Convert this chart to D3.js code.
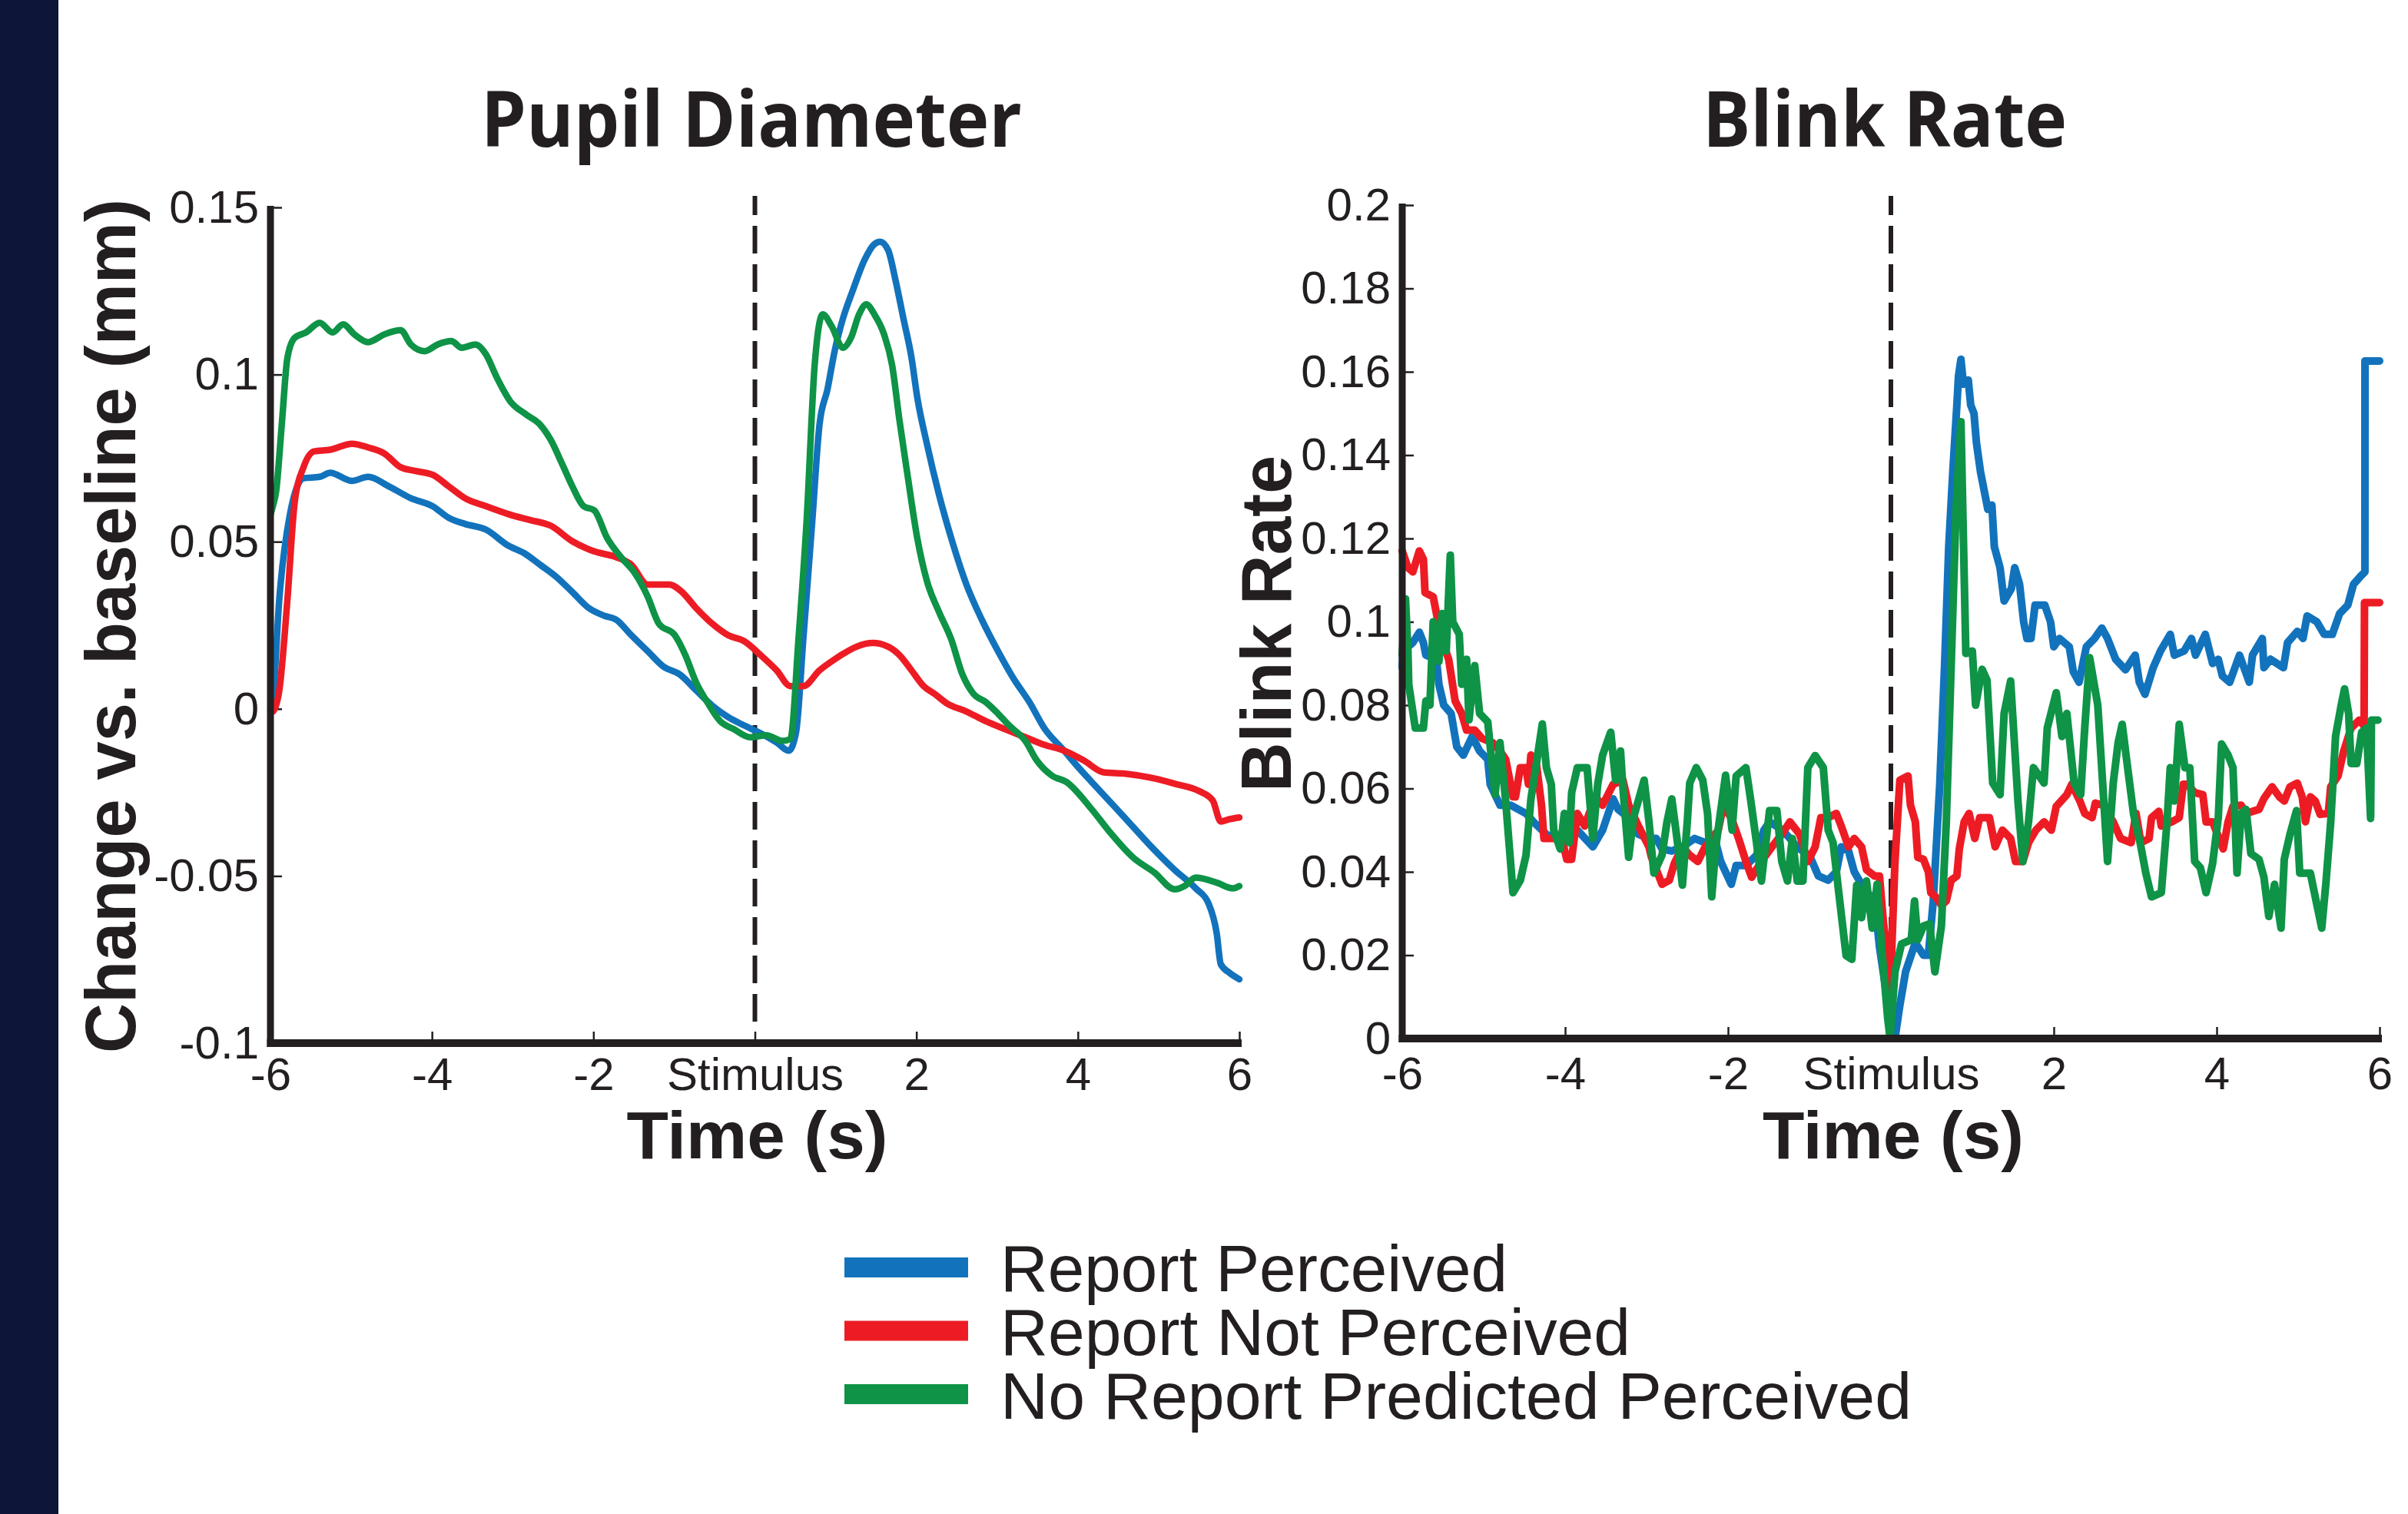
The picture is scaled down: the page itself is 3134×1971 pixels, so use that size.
<!DOCTYPE html>
<meta charset="utf-8">
<style>
  body { margin: 0; background: #fff; }
  text { fill: #231f20; }
</style>
<body>
<script src="https://d3js.org/d3.v7.min.js"></script>
<script>

// series names (legend order)
var seriesNames = ["Report Perceived", "Report Not Perceived", "No Report Predicted Perceived"];

// time axis ticks and labels
var timeTicks = [-6, -4, -2, 0, 2, 4, 6];
var timeTickLabels = ["-6", "-4", "-2", "Stimulus", "2", "4", "6"];

// y ticks
var pupilTicks = [-0.1, -0.05, 0, 0.05, 0.1, 0.15];
var pupilTickLabels = ["-0.1", "-0.05", "0", "0.05", "0.1", "0.15"];
var blinkTicks = [0, 0.02, 0.04, 0.06, 0.08, 0.1, 0.12, 0.14, 0.16, 0.18, 0.2];
var blinkTickLabels = ["0", "0.02", "0.04", "0.06", "0.08", "0.1", "0.12", "0.14", "0.16", "0.18", "0.2"];

// pupil diameter change (mm), [time s, value]
var pupilBlue = [[-6.0,0.0],[-5.97,0.003],[-5.89,0.033],[-5.76,0.058],[-5.59,0.069],[-5.39,0.0694],[-5.26,0.0706],[-4.99,0.0682],[-4.79,0.0694],[-4.53,0.0665],[-4.26,0.063],[-3.99,0.0606],[-3.79,0.0571],[-3.59,0.0553],[-3.33,0.0536],[-3.06,0.0489],[-2.86,0.0466],[-2.66,0.0431],[-2.46,0.0395],[-2.26,0.0349],[-2.06,0.0302],[-1.86,0.0278],[-1.72,0.0267],[-1.53,0.022],[-1.33,0.0173],[-1.13,0.0126],[-0.93,0.0103],[-0.73,0.0056],[-0.53,0.001],[-0.33,-0.0025],[-0.13,-0.005],[0.07,-0.0073],[0.27,-0.0101],[0.42,-0.0125],[0.51,-0.007],[0.60,0.021],[0.71,0.056],[0.80,0.085],[0.90,0.0957],[0.99,0.1073],[1.09,0.1167],[1.21,0.125],[1.36,0.1344],[1.48,0.139],[1.55,0.1397],[1.65,0.1372],[1.74,0.1284],[1.84,0.1167],[1.94,0.105],[2.01,0.0933],[2.13,0.0793],[2.28,0.0641],[2.43,0.0512],[2.62,0.0372],[2.81,0.0267],[3.01,0.0173],[3.20,0.0092],[3.40,0.002],[3.59,-0.006],[3.83,-0.0125],[3.97,-0.0165],[4.28,-0.0247],[4.59,-0.0328],[4.90,-0.041],[5.20,-0.0482],[5.46,-0.0537],[5.62,-0.0583],[5.72,-0.0672],[5.77,-0.0764],[5.88,-0.079],[6.0,-0.0809]];
var pupilRed = [[-6.0,-0.001],[-5.97,-0.0008],[-5.89,0.0056],[-5.79,0.0326],[-5.70,0.0618],[-5.59,0.0723],[-5.46,0.077],[-5.26,0.0775],[-4.99,0.0793],[-4.79,0.0782],[-4.59,0.0764],[-4.39,0.0723],[-4.19,0.0711],[-3.99,0.070],[-3.79,0.0665],[-3.59,0.063],[-3.33,0.0606],[-3.06,0.0583],[-2.79,0.0565],[-2.53,0.0548],[-2.26,0.0501],[-1.99,0.0471],[-1.72,0.0454],[-1.53,0.0431],[-1.33,0.0372],[-1.06,0.0372],[-0.90,0.0349],[-0.73,0.0302],[-0.53,0.0255],[-0.33,0.022],[-0.13,0.0202],[0.07,0.0161],[0.27,0.0115],[0.44,0.0068],[0.60,0.0068],[0.80,0.0115],[1.00,0.015],[1.07,0.0161],[1.26,0.0186],[1.46,0.0197],[1.65,0.0186],[1.79,0.0161],[1.94,0.0115],[2.09,0.0068],[2.23,0.0044],[2.38,0.0016],[2.62,-0.0008],[2.86,-0.0037],[3.10,-0.0061],[3.35,-0.0085],[3.59,-0.0108],[3.83,-0.0125],[4.07,-0.0154],[4.32,-0.019],[4.59,-0.0194],[4.90,-0.0206],[5.20,-0.0224],[5.51,-0.0247],[5.67,-0.0274],[5.77,-0.0337],[5.88,-0.033],[6.0,-0.0325]];
var pupilGreen = [[-6.0,0.058],[-5.97,0.0606],[-5.93,0.065],[-5.86,0.085],[-5.79,0.105],[-5.70,0.111],[-5.56,0.1126],[-5.39,0.1155],[-5.23,0.1126],[-5.10,0.115],[-4.96,0.112],[-4.79,0.1097],[-4.59,0.112],[-4.39,0.1133],[-4.26,0.109],[-4.09,0.107],[-3.93,0.109],[-3.76,0.110],[-3.63,0.108],[-3.46,0.109],[-3.33,0.106],[-3.20,0.0993],[-3.03,0.092],[-2.83,0.088],[-2.66,0.085],[-2.53,0.0805],[-2.39,0.0734],[-2.26,0.0665],[-2.12,0.0606],[-1.99,0.0594],[-1.83,0.0511],[-1.66,0.0454],[-1.49,0.0407],[-1.33,0.0337],[-1.19,0.0255],[-0.99,0.022],[-0.86,0.016],[-0.73,0.008],[-0.59,0.002],[-0.43,-0.0037],[-0.26,-0.0061],[-0.06,-0.0085],[0.14,-0.0079],[0.34,-0.0096],[0.44,-0.009],[0.54,0.0209],[0.64,0.056],[0.74,0.1027],[0.84,0.118],[0.95,0.1145],[1.09,0.108],[1.19,0.111],[1.29,0.118],[1.38,0.121],[1.48,0.118],[1.60,0.112],[1.70,0.1027],[1.79,0.0864],[1.89,0.070],[2.01,0.0512],[2.13,0.0383],[2.28,0.029],[2.43,0.0209],[2.57,0.0103],[2.71,0.0044],[2.86,0.002],[3.01,-0.0014],[3.15,-0.005],[3.35,-0.0096],[3.49,-0.0154],[3.68,-0.020],[3.86,-0.0219],[4.17,-0.030],[4.38,-0.0364],[4.69,-0.0446],[4.95,-0.049],[5.20,-0.054],[5.32,-0.053],[5.46,-0.0505],[5.72,-0.052],[5.92,-0.0537],[6.0,-0.053]];

// blink rate, [time s, value]
var blinkBlue = [[-6.0,0.089],[-5.99,0.093],[-5.87,0.095],[-5.79,0.0975],[-5.74,0.095],[-5.71,0.092],[-5.58,0.091],[-5.55,0.085],[-5.49,0.080],[-5.40,0.078],[-5.33,0.070],[-5.25,0.068],[-5.14,0.0725],[-5.05,0.069],[-4.95,0.067],[-4.92,0.061],[-4.80,0.056],[-4.67,0.056],[-4.48,0.054],[-4.39,0.052],[-4.23,0.049],[-4.01,0.047],[-3.85,0.050],[-3.66,0.046],[-3.54,0.050],[-3.41,0.0575],[-3.35,0.055],[-3.22,0.053],[-3.10,0.049],[-2.97,0.048],[-2.88,0.048],[-2.81,0.0455],[-2.69,0.045],[-2.56,0.046],[-2.41,0.048],[-2.28,0.047],[-2.15,0.047],[-2.09,0.0425],[-1.96,0.037],[-1.90,0.0415],[-1.78,0.0415],[-1.65,0.044],[-1.56,0.050],[-1.49,0.052],[-1.33,0.050],[-1.15,0.046],[-0.99,0.0435],[-0.89,0.039],[-0.77,0.038],[-0.67,0.040],[-0.61,0.046],[-0.52,0.045],[-0.45,0.040],[-0.33,0.036],[-0.20,0.033],[-0.14,0.022],[-0.08,0.014],[-0.01,0.005],[0.05,0.0],[0.11,0.008],[0.18,0.016],[0.30,0.023],[0.40,0.020],[0.46,0.020],[0.52,0.033],[0.60,0.061],[0.66,0.090],[0.71,0.118],[0.76,0.136],[0.81,0.152],[0.83,0.159],[0.86,0.163],[0.89,0.157],[0.95,0.158],[0.98,0.152],[1.02,0.150],[1.05,0.143],[1.10,0.136],[1.15,0.131],[1.19,0.127],[1.24,0.128],[1.27,0.118],[1.34,0.113],[1.39,0.105],[1.48,0.108],[1.52,0.113],[1.58,0.109],[1.63,0.100],[1.67,0.096],[1.72,0.096],[1.77,0.104],[1.89,0.104],[1.96,0.100],[2.00,0.094],[2.07,0.096],[2.19,0.094],[2.24,0.088],[2.31,0.0855],[2.40,0.094],[2.50,0.096],[2.59,0.0985],[2.66,0.096],[2.76,0.091],[2.88,0.0885],[3.00,0.092],[3.05,0.0855],[3.12,0.0826],[3.22,0.089],[3.31,0.093],[3.43,0.097],[3.48,0.092],[3.60,0.093],[3.69,0.096],[3.74,0.092],[3.86,0.097],[3.95,0.090],[4.02,0.091],[4.07,0.087],[4.16,0.0855],[4.28,0.092],[4.40,0.0855],[4.44,0.092],[4.56,0.096],[4.58,0.089],[4.66,0.091],[4.82,0.089],[4.87,0.095],[4.99,0.0977],[5.06,0.096],[5.11,0.1014],[5.23,0.100],[5.32,0.097],[5.42,0.097],[5.51,0.102],[5.61,0.104],[5.68,0.109],[5.77,0.111],[5.82,0.112],[5.821,0.1626],[6.0,0.1626]];
var blinkRed = [[-6.0,0.117],[-5.93,0.113],[-5.87,0.112],[-5.79,0.117],[-5.74,0.115],[-5.72,0.107],[-5.62,0.106],[-5.57,0.101],[-5.50,0.095],[-5.43,0.091],[-5.35,0.081],[-5.27,0.078],[-5.21,0.074],[-5.11,0.074],[-5.02,0.072],[-4.89,0.071],[-4.80,0.069],[-4.73,0.067],[-4.64,0.058],[-4.61,0.058],[-4.55,0.065],[-4.48,0.065],[-4.45,0.061],[-4.42,0.068],[-4.36,0.067],[-4.29,0.056],[-4.26,0.048],[-4.17,0.048],[-4.04,0.048],[-3.98,0.043],[-3.92,0.043],[-3.85,0.054],[-3.76,0.051],[-3.63,0.058],[-3.54,0.056],[-3.41,0.061],[-3.29,0.062],[-3.22,0.056],[-3.10,0.051],[-2.97,0.046],[-2.94,0.0435],[-2.81,0.037],[-2.72,0.038],[-2.66,0.042],[-2.56,0.046],[-2.47,0.044],[-2.37,0.0425],[-2.28,0.046],[-2.12,0.050],[-2.06,0.0557],[-1.96,0.053],[-1.87,0.048],[-1.78,0.0425],[-1.71,0.0387],[-1.59,0.0425],[-1.46,0.046],[-1.34,0.049],[-1.24,0.052],[-1.12,0.049],[-1.02,0.0425],[-0.93,0.046],[-0.86,0.053],[-0.77,0.053],[-0.67,0.054],[-0.61,0.051],[-0.52,0.046],[-0.45,0.048],[-0.36,0.046],[-0.30,0.0405],[-0.20,0.039],[-0.14,0.039],[-0.09,0.0275],[-0.04,0.020],[-0.01,0.0105],[0.05,0.0425],[0.11,0.062],[0.21,0.063],[0.24,0.056],[0.30,0.052],[0.33,0.0435],[0.40,0.043],[0.46,0.040],[0.49,0.035],[0.55,0.034],[0.62,0.032],[0.68,0.033],[0.74,0.038],[0.81,0.039],[0.84,0.0455],[0.90,0.052],[0.96,0.054],[1.03,0.048],[1.09,0.053],[1.21,0.053],[1.28,0.046],[1.37,0.050],[1.47,0.048],[1.53,0.0425],[1.62,0.0425],[1.69,0.047],[1.78,0.050],[1.88,0.052],[1.97,0.050],[2.03,0.0557],[2.16,0.0585],[2.22,0.061],[2.32,0.057],[2.38,0.054],[2.47,0.053],[2.51,0.0565],[2.60,0.056],[2.73,0.052],[2.82,0.048],[2.95,0.047],[3.01,0.054],[3.07,0.047],[3.17,0.048],[3.20,0.053],[3.29,0.0545],[3.32,0.051],[3.45,0.052],[3.54,0.053],[3.59,0.061],[3.64,0.061],[3.73,0.059],[3.83,0.0585],[3.87,0.052],[3.95,0.052],[4.08,0.0455],[4.14,0.052],[4.20,0.0557],[4.30,0.056],[4.36,0.054],[4.52,0.055],[4.58,0.0576],[4.68,0.0604],[4.77,0.058],[4.83,0.057],[4.90,0.0604],[4.99,0.0613],[5.05,0.058],[5.09,0.052],[5.15,0.058],[5.21,0.057],[5.27,0.0538],[5.37,0.054],[5.40,0.0604],[5.49,0.063],[5.56,0.069],[5.65,0.0745],[5.75,0.0764],[5.81,0.075],[5.815,0.1046],[6.0,0.1046]];
var blinkGreen = [[-6.0,0.092],[-5.96,0.1055],[-5.93,0.093],[-5.92,0.085],[-5.84,0.0745],[-5.74,0.0745],[-5.71,0.081],[-5.66,0.080],[-5.62,0.100],[-5.55,0.0905],[-5.51,0.102],[-5.46,0.093],[-5.41,0.116],[-5.38,0.100],[-5.30,0.097],[-5.27,0.085],[-5.21,0.091],[-5.18,0.0765],[-5.11,0.0895],[-5.05,0.078],[-4.95,0.076],[-4.86,0.0585],[-4.80,0.071],[-4.73,0.057],[-4.64,0.035],[-4.55,0.038],[-4.48,0.044],[-4.42,0.0575],[-4.36,0.065],[-4.28,0.0755],[-4.23,0.065],[-4.17,0.061],[-4.14,0.050],[-4.06,0.0455],[-4.01,0.054],[-3.95,0.047],[-3.92,0.059],[-3.85,0.065],[-3.73,0.065],[-3.66,0.048],[-3.60,0.061],[-3.54,0.068],[-3.44,0.0735],[-3.38,0.062],[-3.32,0.069],[-3.29,0.060],[-3.22,0.0435],[-3.16,0.053],[-3.03,0.062],[-2.97,0.052],[-2.91,0.0397],[-2.81,0.044],[-2.75,0.0519],[-2.69,0.0575],[-2.62,0.047],[-2.56,0.0368],[-2.50,0.052],[-2.47,0.0613],[-2.39,0.065],[-2.31,0.062],[-2.25,0.0538],[-2.20,0.034],[-2.15,0.046],[-2.03,0.0632],[-1.95,0.050],[-1.90,0.063],[-1.78,0.065],[-1.72,0.057],[-1.65,0.047],[-1.59,0.0378],[-1.49,0.0547],[-1.40,0.0547],[-1.34,0.0425],[-1.27,0.0378],[-1.21,0.048],[-1.15,0.0378],[-1.08,0.0378],[-1.02,0.065],[-0.93,0.0679],[-0.83,0.065],[-0.77,0.050],[-0.71,0.047],[-0.64,0.035],[-0.55,0.0199],[-0.48,0.019],[-0.42,0.0368],[-0.36,0.029],[-0.30,0.0378],[-0.23,0.0265],[-0.17,0.037],[-0.11,0.021],[-0.04,0.005],[-0.01,0.0],[0.05,0.016],[0.13,0.0227],[0.25,0.0237],[0.29,0.033],[0.33,0.0237],[0.40,0.027],[0.475,0.0275],[0.54,0.016],[0.62,0.027],[0.68,0.0519],[0.74,0.0896],[0.80,0.1272],[0.86,0.148],[0.92,0.0924],[1.0,0.093],[1.04,0.080],[1.12,0.0886],[1.18,0.086],[1.25,0.0613],[1.34,0.0585],[1.39,0.078],[1.47,0.0858],[1.56,0.057],[1.62,0.0425],[1.69,0.052],[1.75,0.065],[1.88,0.0613],[1.92,0.0745],[2.03,0.083],[2.10,0.0725],[2.16,0.078],[2.25,0.0613],[2.33,0.0585],[2.38,0.0745],[2.44,0.0914],[2.54,0.080],[2.60,0.0613],[2.66,0.0425],[2.73,0.0613],[2.79,0.071],[2.84,0.0754],[2.90,0.066],[2.98,0.0538],[3.06,0.047],[3.13,0.0397],[3.20,0.034],[3.32,0.035],[3.39,0.0519],[3.43,0.065],[3.48,0.057],[3.54,0.0754],[3.61,0.065],[3.67,0.065],[3.73,0.0425],[3.80,0.041],[3.87,0.035],[3.95,0.042],[4.02,0.053],[4.06,0.0707],[4.14,0.068],[4.20,0.065],[4.25,0.0397],[4.30,0.054],[4.36,0.055],[4.42,0.0444],[4.52,0.043],[4.58,0.0387],[4.64,0.0293],[4.71,0.037],[4.79,0.0265],[4.83,0.043],[4.90,0.049],[4.98,0.0547],[5.02,0.0397],[5.15,0.0397],[5.21,0.034],[5.29,0.0265],[5.34,0.037],[5.40,0.0519],[5.46,0.0726],[5.53,0.0801],[5.57,0.0839],[5.62,0.078],[5.65,0.066],[5.72,0.066],[5.78,0.0735],[5.84,0.0745],[5.89,0.0528],[5.90,0.0764],[5.98,0.0764]];

var colors = ["#1273bc", "#ed1c24", "#0e9347"];
var ink = "#231f20";

var width = 3134,
    height = 1971;

var svg = d3.select("body").append("svg")
    .attr("width", width)
    .attr("height", height);

svg.append("rect").attr("width", width).attr("height", height).attr("fill", "#fff");
// dark band on the left
svg.append("rect").attr("x", 0).attr("y", 0).attr("width", 76).attr("height", height).attr("fill", "#0d1539");

function panel(opts) {
  var x = d3.scaleLinear().domain([-6, 6]).range(opts.xr);
  var y = d3.scaleLinear().domain(opts.yd).range(opts.yr);
  var g = svg.append("g");

  // title
  g.append("text")
      .attr("x", opts.titleX).attr("y", 191)
      .attr("text-anchor", "middle")
      .attr("font-family", "Open Sans, sans-serif")
      .attr("font-weight", "bold")
      .attr("font-size", 100)
      .attr("textLength", opts.titleW)
      .attr("lengthAdjust", "spacingAndGlyphs")
      .text(opts.title);

  // stimulus marker
  g.append("line")
      .attr("x1", x(0)).attr("x2", x(0))
      .attr("y1", 255).attr("y2", y.range()[0] - 14)
      .attr("stroke", ink)
      .attr("stroke-width", 6)
      .attr("stroke-dasharray", "36,14")
      .attr("stroke-dashoffset", 11);

  // y axis
  var yAxis = g.append("g")
      .attr("transform", "translate(" + x(-6) + ",0)")
      .call(d3.axisLeft(y)
        .tickValues(opts.yTicks)
        .tickFormat(function(d, i) { return opts.yLabels[i]; })
        .tickSizeInner(-15).tickSizeOuter(0).tickPadding(15));
  yAxis.select(".domain").remove();
  yAxis.selectAll("line").attr("stroke", ink).attr("stroke-width", 2.5);
  yAxis.selectAll("text")
      .attr("font-family", "Liberation Sans, Arial, sans-serif")
      .attr("font-size", 60)
      .style("fill", ink);

  // x axis
  var xAxis = g.append("g")
      .attr("transform", "translate(0," + y.range()[0] + ")")
      .call(d3.axisBottom(x)
        .tickValues(timeTicks)
        .tickFormat(function(d, i) { return timeTickLabels[i]; })
        .tickSizeInner(-15).tickSizeOuter(0).tickPadding(opts.xPad));
  xAxis.select(".domain").remove();
  xAxis.selectAll("line").attr("stroke", ink).attr("stroke-width", 2.5);
  xAxis.selectAll("text")
      .attr("font-family", "Liberation Sans, Arial, sans-serif")
      .attr("font-size", 60)
      .style("fill", ink);

  // data lines
  var line = d3.line()
      .x(function(d) { return x(d[0]); })
      .y(function(d) { return y(d[1]); })
      .curve(opts.curve);

  opts.series.forEach(function(s, i) {
    g.append("path")
        .datum(s)
        .attr("fill", "none")
        .attr("stroke", colors[i])
        .attr("stroke-width", opts.lw)
        .attr("stroke-linejoin", "round")
        .attr("stroke-linecap", "round")
        .attr("d", line);
  });

  // thick axis lines
  var x0 = x.range()[0], x1 = x.range()[1], yb = y.range()[0], yt = y.range()[1];
  g.append("line")
      .attr("x1", x0).attr("x2", x0)
      .attr("y1", yt - 2).attr("y2", yb + 5)
      .attr("stroke", ink).attr("stroke-width", 9);
  g.append("line")
      .attr("x1", x0 - 4.5).attr("x2", x1 + 3)
      .attr("y1", yb).attr("y2", yb)
      .attr("stroke", ink).attr("stroke-width", 10);

  // axis titles
  g.append("text")
      .attr("x", (x0 + x1) / 2 + 3).attr("y", 1508)
      .attr("text-anchor", "middle")
      .attr("font-family", "Liberation Sans, Arial, sans-serif")
      .attr("font-weight", "bold")
      .attr("font-size", 88)
      .attr("textLength", 340)
      .attr("lengthAdjust", "spacingAndGlyphs")
      .text("Time (s)");

  g.append("text")
      .attr("transform", "translate(" + opts.yLabelX + "," + opts.yLabelY + ") rotate(-90)")
      .attr("text-anchor", "middle")
      .attr("font-family", "Liberation Sans, Arial, sans-serif")
      .attr("font-weight", "bold")
      .attr("font-size", 92)
      .attr("textLength", opts.yLabelW)
      .attr("lengthAdjust", "spacingAndGlyphs")
      .text(opts.yLabel);
}

panel({
  xr: [352, 1613], yd: [-0.1, 0.15], yr: [1358, 270],
  yTicks: pupilTicks, yLabels: pupilTickLabels, xPad: 18,
  title: "Pupil Diameter", titleX: 978, titleW: 704,
  yLabel: "Change vs. baseline (mm)", yLabelX: 176, yLabelY: 815, yLabelW: 1112,
  series: [pupilBlue, pupilRed, pupilGreen], lw: 8.5, curve: d3.curveMonotoneX
});

panel({
  xr: [1825, 3097], yd: [0, 0.2], yr: [1352, 267],
  yTicks: blinkTicks, yLabels: blinkTickLabels, xPad: 23,
  title: "Blink Rate", titleX: 2453, titleW: 474,
  yLabel: "Blink Rate", yLabelX: 1680, yLabelY: 812, yLabelW: 438,
  series: [blinkBlue, blinkRed, blinkGreen], lw: 10, curve: d3.curveLinear
});

// legend
var legend = svg.append("g");
var legendRows = d3.range(seriesNames.length);
legend.selectAll("rect")
  .data(legendRows)
  .enter().append("rect")
    .attr("x", 1099)
    .attr("y", function(i) { return 1637 + i * 82.5; })
    .attr("width", 161)
    .attr("height", 26)
    .attr("fill", function(i) { return colors[i]; });

var legendW = [660, 820, 1186];
legend.selectAll("text")
  .data(legendRows)
  .enter().append("text")
    .attr("x", 1302)
    .attr("y", function(i) { return 1681 + i * 83; })
    .attr("font-family", "Liberation Sans, Arial, sans-serif")
    .attr("font-size", 86)
    .attr("textLength", function(i) { return legendW[i]; })
    .attr("lengthAdjust", "spacingAndGlyphs")
    .text(function(i) { return seriesNames[i]; });

</script>
</body>
